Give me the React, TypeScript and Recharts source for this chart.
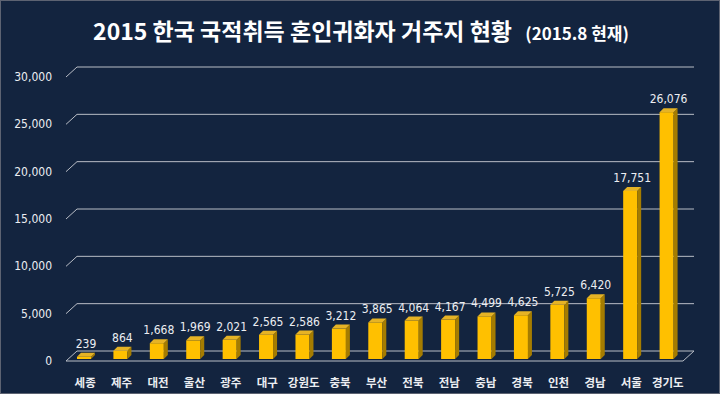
import React from "react";
import { BarChart, Bar, XAxis, YAxis, CartesianGrid, LabelList } from "recharts";

const regions = ["세종", "제주", "대전", "울산", "광주", "대구", "강원도", "충북", "부산", "전북", "전남", "충남", "경북", "인천", "경남", "서울", "경기도"];
const counts = [239, 864, 1668, 1969, 2021, 2565, 2586, 3212, 3865, 4064, 4167, 4499, 4625, 5725, 6420, 17751, 26076];
const yTicks = [0, 5000, 10000, 15000, 20000, 25000, 30000];

const data = regions.map((name, i) => ({ name, value: counts[i] }));

const BG = "#13243f";
const GRID = "#b9bdc6";
const TXT = "#eceef2";
const NUM_FONT = "'DejaVu Sans Condensed', 'DejaVu Sans', sans-serif";
const KR_FONT = "'Noto Sans CJK KR', sans-serif";

// 3D wall offset
const DX = 11;
const DY = 10;

const fmt = (v: number) => v.toLocaleString("en-US");

function GridLine(props: any) {
  const { x1, x2, y1 } = props;
  const fy = y1 + 2;
  const by = fy - DY;
  const isFloor = Math.abs(y1 - 359) < 2;
  let d = `M${x1},${fy} L${x1 + DX},${by} L${x2 + DX - 2},${by}`;
  if (isFloor) d += ` L${x2 - 2},${fy} L${x1},${fy}`;
  return <path key={props.key} d={d} stroke={GRID} strokeWidth={1} fill="none" />;
}

function Bar3D(props: any) {
  const { x, y, width, height } = props;
  if (height <= 0) return null;
  const d = 4;
  return (
    <g>
      <rect x={x} y={y} width={width} height={height} fill="#ffc000" />
      <path
        d={`M${x + width},${y} L${x + width + d},${y - d} L${x + width + d},${y + height - d} L${x + width},${y + height} Z`}
        fill="#a57c00"
      />
      <path
        d={`M${x},${y} L${x + d},${y - d} L${x + width + d},${y - d} L${x + width},${y} Z`}
        fill="#e6b325"
      />
    </g>
  );
}

function ValueLabel(props: any) {
  const { x, y, width, value } = props;
  return (
    <text x={x + width / 2 + 2} y={y - 9} textAnchor="middle" fill={TXT} fontSize={12} fontFamily={NUM_FONT}>
      {fmt(value)}
    </text>
  );
}

function YTick(props: any) {
  const { x, y, payload } = props;
  return (
    <text x={x - 6} y={y + 6} textAnchor="end" fill={TXT} fontSize={12} fontFamily={NUM_FONT}>
      {fmt(payload.value)}
    </text>
  );
}

function XTick(props: any) {
  const { x, y, payload } = props;
  return (
    <text x={x + 1} y={y + 20} textAnchor="middle" fill={TXT} fontSize={11.5} fontWeight="bold" fontFamily={KR_FONT}>
      {payload.value}
    </text>
  );
}

export default function App() {
  return (
    <div style={{ position: "absolute", left: 0, top: 0, width: 720, height: 396, background: "#ffffff" }}>
      <div
        style={{
          position: "absolute",
          left: 0,
          top: 0,
          width: 718,
          height: 392,
          background: BG,
          border: "1px solid #5d6372",
        }}
      >
        <div
          style={{
            position: "absolute",
            left: 0,
            top: 13,
            width: 720,
            textAlign: "center",
            color: "#ffffff",
            fontFamily: KR_FONT,
            fontWeight: "bold",
            fontSize: 23,
            lineHeight: "32px",
            whiteSpace: "nowrap",
          }}
        >
          2015 한국 국적취득 혼인귀화자 거주지 현황 <span style={{ fontSize: 17, marginLeft: 8 }}>(2015.8 현재)</span>
        </div>
        <div style={{ position: "absolute", left: -1, top: -1 }}>
          <BarChart
            width={720}
            height={396}
            data={data}
            margin={{ top: 75, right: 35, bottom: 7, left: 8 }}
            barSize={14}
          >
            <CartesianGrid vertical={false} horizontal={(p: any) => <GridLine {...p} />} />
            <XAxis dataKey="name" axisLine={false} tickLine={false} height={30} tick={<XTick />} interval={0} />
            <YAxis
              domain={[0, 30000]}
              ticks={yTicks}
              axisLine={false}
              tickLine={false}
              width={58}
              tick={<YTick />}
            />
            <Bar dataKey="value" isAnimationActive={false} shape={<Bar3D />}>
              <LabelList dataKey="value" content={<ValueLabel />} />
            </Bar>
          </BarChart>
        </div>
      </div>
    </div>
  );
}
